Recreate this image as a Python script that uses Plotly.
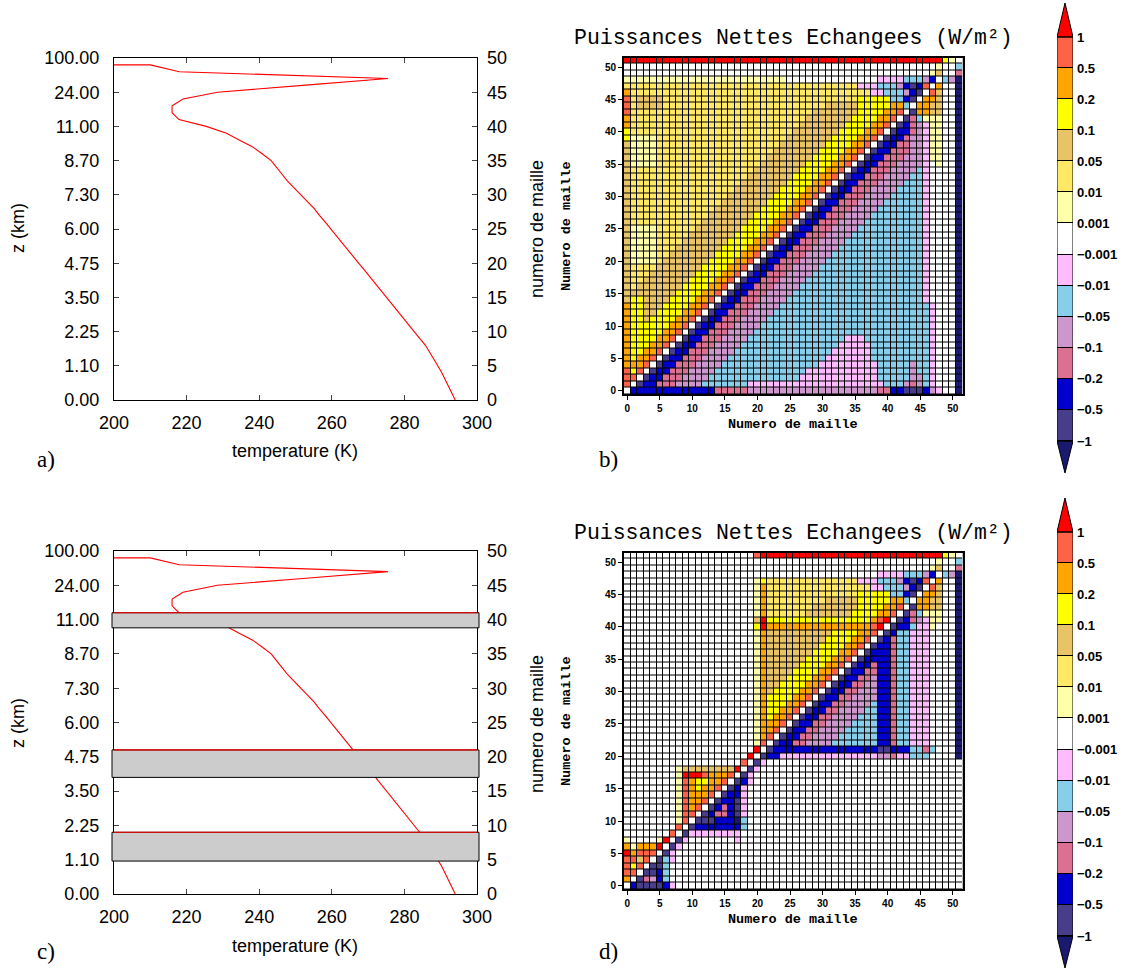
import plotly.graph_objects as go

W_PX, H_PX = 1130, 968

# ---------------- data ----------------
cell_numbers = list(range(50)) + [49]
temperature_K = [294.0, 293.1, 292.2, 291.2, 290.3, 289.2, 288.1, 287.0, 285.8, 284.2,
                 282.7, 281.2, 279.7, 278.2, 276.7, 275.2, 273.6, 272.1, 270.5, 269.0,
                 267.4, 265.9, 264.4, 262.8, 261.3, 259.7, 258.2, 256.6, 255.1, 253.3,
                 251.5, 249.6, 247.8, 246.3, 244.8, 243.3, 240.8, 238.2, 234.5, 231.0,
                 225.4, 217.9, 216.0, 216.0, 219.0, 228.5, 252.0, 275.5, 218.0, 210.0,
                 190.0]

cell_ticks = [0, 5, 10, 15, 20, 25, 30, 35, 40, 45, 50]
z_tick_labels = ["0.00", "1.10", "2.25", "3.50", "4.75", "6.00", "7.30", "8.70",
                 "11.00", "24.00", "100.00"]
temp_ticks = [200, 220, 240, 260, 280, 300]
cloud_layers = [(38.8, 41.0), (17.0, 21.0), (4.8, 9.0)]

# colour classes (lowest -> highest)
class_codes = "NSBRPCKWLGHYOTX"
class_colors = ["#191970", "#483d8b", "#0000cd", "#db7093", "#cd96cd", "#87ceeb",
                "#ffbbff", "#ffffff", "#ffffaa", "#ffe866", "#e8c466", "#ffff00",
                "#ffa500", "#ff6347", "#ff0000"]
colorbar_labels = ["\u22121", "\u22120.5", "\u22120.2", "\u22120.1", "\u22120.05",
                   "\u22120.01", "\u22120.001", "0.001", "0.01", "0.05", "0.1", "0.2",
                   "0.5", "1"]

# rows 0..51 (run-length: class letter + count), columns 0..51
B_ROWS = [
    "W B13 R5 P20 R2 B2 S3 B P K W2 N",
    "T W S B2 R3 P4 C7 K21 C3 P R P C K W3 N",
    "T2 W S B2 R3 P4 C14 K12 C5 P2 C K W3 N",
    "T Y T W S B2 R3 P4 C14 K11 C5 P C2 K W3 N",
    "O3 T W S B2 R3 P4 C15 K9 C5 P C2 K W3 N",
    "O Y O2 T W S B2 R3 P4 C15 K7 C9 K W3 N",
    "O Y2 O2 T W S B2 R3 P4 C15 K6 C9 K W3 N",
    "O Y3 O2 T W S B2 R3 P4 C15 K5 C9 K W3 N",
    "O Y4 O2 T W S B2 R3 P4 C15 K3 C10 K W3 N",
    "O Y5 O2 T W S B2 R3 P4 C27 K W3 N",
    "O Y6 O2 T W S B2 R3 P4 C26 K W3 N",
    "O Y2 H Y4 O2 T W S B2 R3 P4 C25 K W3 N",
    "O Y2 H2 Y4 O2 T W S B2 R3 P4 C24 K W3 N",
    "O Y2 H3 Y4 O2 T W S B2 R3 P4 C23 K W3 N",
    "H Y2 H4 Y4 O2 T W S B2 R3 P4 C21 K W4 N",
    "H8 Y4 O2 T W S B2 R3 P4 C20 K W4 N",
    "H G H7 Y4 O2 T W S B2 R3 P4 C19 K W4 N",
    "H G2 H7 Y4 O2 T W S B2 R3 P4 C18 K W4 N",
    "H G3 H7 Y4 O2 T W S B2 R3 P4 C17 K W4 N",
    "H G4 H7 Y4 O2 T W S B2 R3 P4 C16 K W4 N",
    "H L4 G H7 Y4 O2 T W S B2 R3 P4 C15 K W4 N",
    "H L4 G2 H7 Y4 O2 T W S B2 R3 P4 C14 K W4 N",
    "H L4 G3 H7 Y4 O2 T W S B2 R3 P4 C13 K W4 N",
    "H L4 G4 H7 Y4 O2 T W S B2 R3 P4 C12 K W4 N",
    "H L4 G5 H7 Y4 O2 T W S B2 R3 P4 C11 K W4 N",
    "H L4 G6 H7 Y4 O2 T W S B2 R3 P4 C10 K W4 N",
    "H G11 H7 Y4 O2 T W S B2 R3 P4 C9 K W4 N",
    "H G12 H7 Y4 O2 T W S B2 R3 P4 C8 K W4 N",
    "H G13 H7 Y4 O2 T W S B2 R3 P4 C7 K W4 N",
    "H G14 H7 Y4 O2 T W S B2 R3 P4 C6 K W4 N",
    "H G15 H7 Y4 O2 T W S B2 R3 P4 C5 K W4 N",
    "H G16 H7 Y4 O2 T W S B2 R3 P4 C4 K W4 N",
    "H G17 H7 Y4 O2 T W S B2 R3 P4 C3 K W4 N",
    "H G18 H7 Y4 O2 T W S B2 R3 P4 C2 K W4 N",
    "H G19 H7 Y4 O2 T W S B2 R3 P4 C K W4 N",
    "H L4 G16 H7 Y4 O2 T W S B2 R3 P4 K W L W2 N",
    "H L4 G17 H7 Y4 O2 T W S B2 R3 P3 K L2 W2 N",
    "H L4 G18 H7 Y4 O2 T W S B2 R3 P2 K L2 W2 N",
    "H L4 G19 H7 Y4 O2 T W S B2 R2 P2 K L2 W2 N",
    "Y L4 G20 H7 Y4 O2 T W S B2 R P2 K L2 W2 N",
    "Y G25 H7 Y4 O2 T W S B2 R P K L2 W2 N",
    "O G26 H7 Y4 O2 T W S B R P K L2 W2 N",
    "O G27 H7 Y4 O2 T W S R C L3 W2 N",
    "T G28 H7 Y4 O2 T W S O2 H2 W2 N",
    "T G H4 G25 H5 Y5 O2 C W O2 H2 W2 N",
    "T G H4 G30 Y5 C2 B S W O2 H W2 N",
    "O G37 K2 C3 P B S W T H W2 N",
    "G36 K3 C3 P B S B T W O W2 N",
    "L25 W14 K4 C3 P B W C P N",
    "W47 L H W2 R",
    "W48 L W2 C",
    "X49 Y L W",
]

D_ROWS = [
    "W B S4 B K W44",
    "O W S R P B C W45",
    "T2 W S2 B C W45",
    "T Y T W S2 C W45",
    "T2 H T W S C K W44",
    "X O T3 W S K W44",
    "O L O3 X W S K W43",
    "L W4 L X W S K W7 K W34",
    "W7 T W S K8 W34",
    "W8 T W S B7 C W33",
    "W8 L T W S3 B3 N C W33",
    "W8 L T2 W S B R2 B S K W33",
    "W8 L T O T W S B R B S K W33",
    "W8 L T O2 T W S B2 S K W33",
    "W8 L T O3 T W S B2 K W33",
    "W8 L T O Y O2 T W S B K W33",
    "W8 L T O Y2 O2 T W S B K W32",
    "W8 L X3 T O3 T W S K W32",
    "W8 L H8 X W S K W31",
    "W18 T W S K W30",
    "W19 X W S B2 K15 P2 R K2 C3 W4 N",
    "W20 X W S B16 S2 B3 C2 R C W3 N",
    "W20 L T W S B2 R2 P4 C7 B2 R C2 K3 W4 N",
    "W20 L O T W S B2 R2 P4 C6 B2 R C2 K3 W4 N",
    "W20 L O2 T W S B2 R2 P4 C5 B2 R C2 K3 W4 N",
    "W20 L O3 T W S B2 R2 P4 C4 B2 R C2 K3 W4 N",
    "W20 L O Y O2 T W S B2 R2 P4 C3 B2 R C2 K3 W4 N",
    "W20 L O Y2 O2 T W S B2 R2 P4 C2 B2 R C2 K3 W4 N",
    "W20 L O Y3 O2 T W S B2 R2 P4 C B2 R C2 K3 W4 N",
    "W20 L O Y4 O2 T W S B2 R2 P4 B2 R C2 K3 W4 N",
    "W20 L O H Y4 O2 T W S B2 R2 P3 B2 R C2 K3 W4 N",
    "W20 L O H2 Y4 O2 T W S B2 R2 P2 B2 R C2 K3 W4 N",
    "W20 L O H3 Y4 O2 T W S B2 R2 P B2 R C2 K3 W4 N",
    "W20 L O H4 Y4 O2 T W S B2 R2 B2 R C2 K3 W4 N",
    "W20 L O H5 Y4 O2 T W S B2 R B2 R C2 K3 W4 N",
    "W20 L O H6 Y4 O2 T W S B4 R C2 K3 W4 N",
    "W20 L O H7 Y4 O2 T W S B3 R C2 K3 W4 N",
    "W20 L O H8 Y4 O2 T W S B2 R C2 K3 W4 N",
    "W20 L O H9 Y4 O2 T W S B R C2 K3 W4 N",
    "W20 L O H10 Y4 O2 T W S B C2 K3 W4 N",
    "W20 Y X O16 T X W S B2 C K2 L W3 N",
    "W20 H X Y16 O T X W S B R P K L2 W2 N",
    "W20 L O G6 H7 Y4 O2 T W S R C L3 W2 N",
    "W20 L O G7 H7 Y4 O2 T W S O2 H2 W2 N",
    "W20 L O G9 H5 Y5 O2 C W O2 H2 W2 N",
    "W20 L O G14 Y5 C2 B S W O2 H W2 N",
    "W20 L O G16 K2 C3 P B S W T H W2 N",
    "W20 L Y G14 K3 C3 P B S B T W O W2 N",
    "W39 K4 C3 P B W C P N",
    "W47 L H W2 R",
    "W48 L W2 C",
    "W20 T X28 Y L W",
]


def decode(rle):
    out = []
    for tok in rle.split():
        n = int(tok[1:]) if len(tok) > 1 else 1
        out.extend([tok[0]] * n)
    out = (out + ["W"] * 52)[:52]
    return [class_codes.index(c) for c in out]


z_b = [decode(r) for r in B_ROWS]
z_d = [decode(r) for r in D_ROWS]

ncls = len(class_colors)
colorscale = []
for k, c in enumerate(class_colors):
    colorscale.append([k / ncls, c])
    colorscale.append([(k + 1) / ncls, c])


def fx(p):
    return p / W_PX


def fy(p):
    return 1 - p / H_PX


fig = go.Figure()

# ---------- line panels a) and c) ----------
for xa, ya, ya2 in [("x", "y", "y2"), ("x2", "y3", "y4")]:
    fig.add_trace(go.Scatter(x=temperature_K, y=cell_numbers, mode="lines",
                             line=dict(color="#ff0000", width=1.1),
                             xaxis=xa, yaxis=ya, hoverinfo="skip", showlegend=False))
    fig.add_trace(go.Scatter(x=[250], y=[25], mode="markers", marker=dict(opacity=0),
                             xaxis=xa, yaxis=ya2, hoverinfo="skip", showlegend=False))

# ---------- heatmaps b) and d) ----------
for z, xa, ya in [(z_b, "x3", "y5"), (z_d, "x4", "y6")]:
    fig.add_trace(go.Heatmap(z=z, x=list(range(52)), y=list(range(52)),
                             colorscale=colorscale, zmin=-0.5, zmax=ncls - 0.5,
                             showscale=False, xgap=1, ygap=1,
                             xaxis=xa, yaxis=ya, hoverinfo="skip"))

# ---------- colour bars ----------
cb_top = 13.5 + 34 / 31.077
cb_bot = 0.5 - 32 / 31.077
for xa, ya in [("x5", "y7"), ("x6", "y8")]:
    fig.add_trace(go.Heatmap(z=[[k] for k in range(1, 14)], x=[0], y=list(range(1, 14)),
                             colorscale=colorscale, zmin=-0.5, zmax=ncls - 0.5,
                             showscale=False, ygap=1, xaxis=xa, yaxis=ya, hoverinfo="skip"))
    fig.add_trace(go.Scatter(x=[-0.5, 0.5, 0, -0.5], y=[13.5, 13.5, cb_top, 13.5],
                             fill="toself", fillcolor=class_colors[-1], mode="lines",
                             line=dict(color="black", width=1), xaxis=xa, yaxis=ya,
                             hoverinfo="skip", showlegend=False))
    fig.add_trace(go.Scatter(x=[-0.5, 0.5, 0, -0.5], y=[0.5, 0.5, cb_bot, 0.5],
                             fill="toself", fillcolor=class_colors[0], mode="lines",
                             line=dict(color="black", width=1), xaxis=xa, yaxis=ya,
                             hoverinfo="skip", showlegend=False))

sans = "Liberation Sans"
mono = "Liberation Mono"
serif = "Liberation Serif"

line_tickfont = dict(family=sans, size=18, color="black")
hm_tickfont = dict(family=sans, size=10, color="black", weight="bold")

layout = dict(width=W_PX, height=H_PX, margin=dict(l=0, r=0, t=0, b=0, autoexpand=False),
              paper_bgcolor="white", plot_bgcolor="white", showlegend=False)


def line_x(anchor):
    return dict(domain=[fx(114), fx(477)], range=[200, 300], tickvals=temp_ticks,
                ticks="inside", ticklen=5, mirror="ticks", showline=True,
                linecolor="black", linewidth=1, showgrid=False, zeroline=False,
                tickfont=line_tickfont, anchor=anchor, ticklabelstandoff=6,
                automargin=False)


def line_y(top, bot, anchor):
    return dict(domain=[fy(bot), fy(top)], range=[0, 50], tickvals=cell_ticks,
                ticktext=z_tick_labels, ticks="inside", ticklen=5, mirror="ticks",
                showline=True, linecolor="black", linewidth=1, showgrid=False,
                zeroline=False, tickfont=line_tickfont, anchor=anchor,
                ticklabelstandoff=10, automargin=False)


def line_y2(over, anchor):
    return dict(overlaying=over, side="right", range=[0, 50], tickvals=cell_ticks,
                ticks="", showline=False, showgrid=False, zeroline=False,
                tickfont=line_tickfont, anchor=anchor, ticklabelstandoff=9,
                automargin=False)


def hm_x(anchor):
    return dict(domain=[fx(624), fx(962.5)], range=[-0.5, 51.5], tickvals=cell_ticks,
                ticks="outside", ticklen=4, tickcolor="black", showline=True,
                linecolor="black", linewidth=2, mirror=True, showgrid=False,
                zeroline=False, tickfont=hm_tickfont, anchor=anchor, automargin=False)


def hm_y(top, bot, anchor):
    return dict(domain=[fy(bot), fy(top)], range=[-0.5, 51.5], tickvals=cell_ticks,
                ticks="outside", ticklen=4, tickcolor="black", showline=True,
                linecolor="black", linewidth=2, mirror=True, showgrid=False,
                zeroline=False, tickfont=hm_tickfont, anchor=anchor, automargin=False)


def cb_x(anchor):
    return dict(domain=[fx(1057), fx(1073)], range=[-0.5, 0.5], visible=False,
                anchor=anchor, automargin=False)


def cb_y(top, bot, anchor):
    return dict(domain=[fy(bot), fy(top)], range=[cb_bot, cb_top],
                tickvals=[k + 0.5 for k in range(14)], ticktext=colorbar_labels,
                side="right", ticks="", showline=False, showgrid=False, zeroline=False,
                tickfont=dict(family=sans, size=13, color="black", weight="bold"),
                anchor=anchor, ticklabelstandoff=3, automargin=False)


layout.update(
    xaxis=line_x("y"), yaxis=line_y(58, 400, "x"), yaxis2=line_y2("y", "x"),
    xaxis2=line_x("y3"), yaxis3=line_y(551, 894, "x2"), yaxis4=line_y2("y3", "x2"),
    xaxis3=hm_x("y5"), yaxis5=hm_y(57.5, 394, "x3"),
    xaxis4=hm_x("y6"), yaxis6=hm_y(552.5, 889, "x4"),
    xaxis5=cb_x("y7"), yaxis7=cb_y(3, 473, "x5"),
    xaxis6=cb_x("y8"), yaxis8=cb_y(498, 968, "x6"),
)

shapes = []
# black backgrounds behind heatmap cells (grid lines)
for xr, yr in [("x3", "y5"), ("x4", "y6")]:
    shapes.append(dict(type="rect", xref=xr, yref=yr, x0=-0.5, x1=51.5, y0=-0.5, y1=51.5,
                       fillcolor="black", line=dict(width=0), layer="below"))
for xr, yr in [("x5", "y7"), ("x6", "y8")]:
    shapes.append(dict(type="rect", xref=xr, yref=yr, x0=-0.5, x1=0.5, y0=0.5, y1=13.5,
                       fillcolor="black", line=dict(width=0), layer="below"))
    shapes.append(dict(type="rect", xref=xr, yref=yr, x0=-0.5, x1=0.5, y0=0.5, y1=13.5,
                       fillcolor="rgba(0,0,0,0)", line=dict(color="black", width=1)))
# cloud layers on panel c
for lo, hi in cloud_layers:
    shapes.append(dict(type="rect", xref="paper", yref="y3", x0=fx(112), x1=fx(479),
                       y0=lo, y1=hi, fillcolor="#cccccc",
                       line=dict(color="black", width=1)))
    shapes.append(dict(type="line", xref="x2", yref="y3", x0=200, x1=300, y0=hi, y1=hi,
                       line=dict(color="#ff0000", width=1.2)))
layout["shapes"] = shapes

ann = []


def add_text(text, x, y, size, family, angle=0, weight="normal", xanchor="center"):
    ann.append(dict(text=text, x=fx(x), y=fy(y), xref="paper", yref="paper",
                    showarrow=False, textangle=angle, xanchor=xanchor, yanchor="middle",
                    font=dict(family=family, size=size, color="black", weight=weight)))


for dy in [0, 495]:
    add_text("z (km)", 18, 228 + dy, 18, sans, angle=-90)
    add_text("numero de maille", 537, 229 + dy, 18, sans, angle=-90)
    add_text("temperature (K)", 295, 451 + dy, 18, sans)
    add_text("Puissances Nettes Echangees (W/m\u00b2)", 793, 38 + dy, 21.5, mono)
    add_text("Numero de maille", 793, 424 + dy, 13.5, mono, weight="bold")
    add_text("Numero de maille", 566, 226 + dy, 13.5, mono, angle=-90, weight="bold")

add_text("a)", 46, 459, 23, serif)
add_text("b)", 608, 459, 23, serif)
add_text("c)", 46, 951, 23, serif)
add_text("d)", 608, 951, 23, serif)
layout["annotations"] = ann

fig.update_layout(**layout)
fig.write_html("out.html")
